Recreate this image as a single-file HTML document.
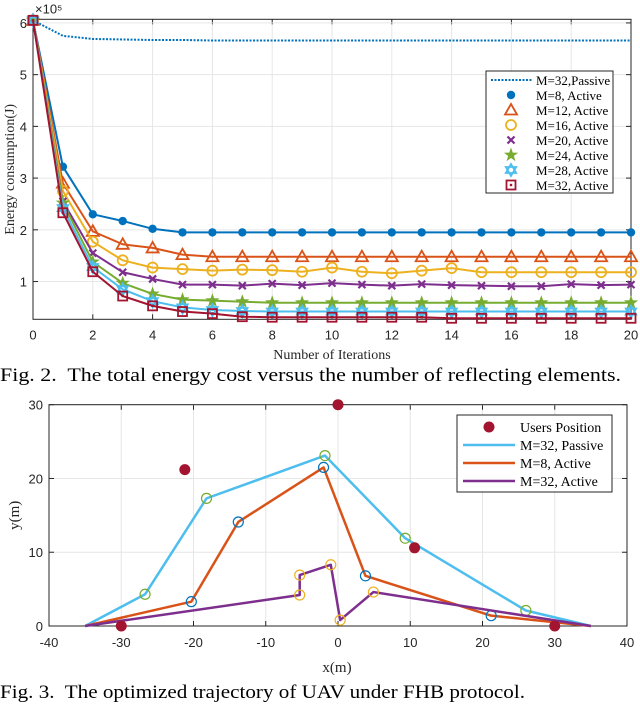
<!DOCTYPE html>
<html><head><meta charset="utf-8"><style>
html,body{margin:0;padding:0;background:#fff;}
svg{display:block;font-family:"Liberation Serif",serif;}
.tk{font-family:"Liberation Sans",sans-serif;font-size:13px;fill:#262626;}
.cap{white-space:pre;}
</style></head>
<body>
<svg id="root" width="640" height="706" viewBox="0 0 640 706">
<g id="fig2"></g>
<text class="cap" xml:space="preserve" x="0" y="381" font-size="19" textLength="621" lengthAdjust="spacingAndGlyphs">Fig. 2.  The total energy cost versus the number of reflecting elements.</text>
<g id="fig3"></g>
<text class="cap" xml:space="preserve" x="0" y="698" font-size="19" textLength="525" lengthAdjust="spacingAndGlyphs">Fig. 3.  The optimized trajectory of UAV under FHB protocol.</text>
</svg>
<script>
const NS="http://www.w3.org/2000/svg";
// ---- Fig 2 data (x1e5 J) ----
const iterations=[0,1,2,3,4,5,6,7,8,9,10,11,12,13,14,15,16,17,18,19,20];
const passive32=[6.05,5.75,5.69,5.68,5.67,5.67,5.66,5.66,5.66,5.66,5.66,5.66,5.66,5.66,5.66,5.66,5.66,5.66,5.66,5.66,5.66];
const active8=[6.05,3.22,2.30,2.17,2.02,1.95,1.95,1.95,1.95,1.95,1.95,1.95,1.95,1.95,1.95,1.95,1.95,1.95,1.95,1.95,1.95];
const active12=[6.05,2.90,1.97,1.72,1.65,1.52,1.48,1.48,1.48,1.48,1.48,1.48,1.48,1.48,1.48,1.48,1.48,1.48,1.48,1.48,1.48];
const active16=[6.05,2.75,1.77,1.41,1.27,1.24,1.21,1.23,1.22,1.19,1.27,1.19,1.16,1.21,1.26,1.18,1.18,1.18,1.18,1.18,1.18];
const active20=[6.05,2.55,1.55,1.18,1.05,0.94,0.94,0.92,0.96,0.93,0.97,0.94,0.92,0.95,0.93,0.92,0.91,0.91,0.95,0.93,0.94];
const active24=[6.05,2.52,1.38,0.97,0.76,0.65,0.63,0.61,0.59,0.59,0.59,0.59,0.59,0.59,0.59,0.59,0.59,0.59,0.59,0.59,0.59];
const active28=[6.05,2.42,1.28,0.85,0.62,0.50,0.45,0.43,0.42,0.42,0.42,0.42,0.42,0.42,0.42,0.42,0.42,0.42,0.42,0.42,0.42];
const active32=[6.05,2.33,1.19,0.72,0.53,0.42,0.38,0.32,0.31,0.31,0.31,0.31,0.31,0.31,0.29,0.29,0.29,0.29,0.29,0.29,0.29];
const xTicks2=[0,2,4,6,8,10,12,14,16,18,20];
const yTicks2=[1,2,3,4,5,6];
const legend2=["M=32,Passive","M=8, Active","M=12, Active","M=16, Active","M=20, Active","M=24, Active","M=28, Active","M=32, Active"];
// ---- Fig 3 data (m) ----
const usersX=[-30,-21.2,0,10.6,30];
const usersY=[0,21.2,30,10.6,0];
const passiveX=[-35,-26.7,-18.2,-1.8,9.3,26,35];
const passiveY=[0,4.3,17.3,23.1,11.9,2.1,0];
const act8X=[-35,-20.3,-13.8,-2.0,3.8,21.2,35];
const act8Y=[0,3.3,14.1,21.5,6.8,1.4,0];
const act32X=[-35,-5.3,-5.3,-1.0,0.3,4.9,35];
const act32Y=[0,4.2,6.9,8.3,0.8,4.6,0];
const xTicks3=[-40,-30,-20,-10,0,10,20,30,40];
const yTicks3=[0,10,20,30];
const legend3=["Users Position","M=32, Passive","M=8, Active","M=32, Active"];

function el(tag,attrs,parent){const e=document.createElementNS(NS,tag);for(const k in attrs)e.setAttribute(k,attrs[k]);parent.appendChild(e);return e;}

// ===== Fig 2 =====
const g2=document.getElementById('fig2');
const L2=33,R2=631,T2=19.3,B2=319.3,YMIN=0.27,YMAX=6.07;
const sx2=v=>L2+(v-0)/(20-0)*(R2-L2);
const sy2=v=>B2-(v-YMIN)/(YMAX-YMIN)*(B2-T2);
el('rect',{x:L2,y:T2,width:R2-L2,height:B2-T2,fill:'#fff'},g2);
for(const t of xTicks2){
  const l=el('line',{x1:sx2(t),x2:sx2(t),y1:T2,y2:B2,stroke:'#e6e6e6','stroke-width':1},g2);
  
  el('line',{x1:sx2(t),x2:sx2(t),y1:B2,y2:B2-5,stroke:'#262626'},g2);
  el('line',{x1:sx2(t),x2:sx2(t),y1:T2,y2:T2+5,stroke:'#262626'},g2);
  const tx=el('text',{x:sx2(t),y:B2+20,'text-anchor':'middle',class:'tk'},g2);tx.textContent=t;
  
}
for(const t of yTicks2){
  const l=el('line',{x1:L2,x2:R2,y1:sy2(t),y2:sy2(t),stroke:'#e6e6e6'},g2);
  
  el('line',{x1:L2,x2:L2+5,y1:sy2(t),y2:sy2(t),stroke:'#262626'},g2);
  el('line',{x1:R2,x2:R2-5,y1:sy2(t),y2:sy2(t),stroke:'#262626'},g2);
  const tx=el('text',{x:L2-6,y:sy2(t)+5,'text-anchor':'end',class:'tk'},g2);tx.textContent=t;
  
}
const ax2=el('rect',{x:L2,y:T2,width:R2-L2,height:B2-T2,fill:'none',stroke:'#262626','stroke-width':1},g2);

const ex=el('text',{x:L2+2,y:T2-6,class:'tk','font-size':'12'},g2);ex.textContent='×10⁵';

const yl=el('text',{x:0,y:0,'font-size':'14',fill:'#262626','text-anchor':'middle',transform:`translate(14,${(T2+B2)/2}) rotate(-90)`},g2);yl.textContent='Energy consumption(J)';

const xl=el('text',{x:(L2+R2)/2,y:359,'font-size':'14',fill:'#262626','text-anchor':'middle'},g2);xl.textContent='Number of Iterations';


function marker(parent,type,x,y,color){
  let m;
  if(type==='dot'){m=el('circle',{cx:x,cy:y,r:4.2,fill:color},parent);}
  else if(type==='tri'){m=el('polygon',{points:`${x},${y-6} ${x-6},${y+4.5} ${x+6},${y+4.5}`,fill:'none',stroke:color,'stroke-width':1.8},parent);}
  else if(type==='circ'){m=el('circle',{cx:x,cy:y,r:5,fill:'none',stroke:color,'stroke-width':1.8},parent);}
  else if(type==='x'){m=el('path',{d:`M${x-3.5},${y-3.5}L${x+3.5},${y+3.5}M${x-3.5},${y+3.5}L${x+3.5},${y-3.5}`,stroke:color,'stroke-width':2.2},parent);}
  else if(type==='star'){let p=[];for(let i=0;i<10;i++){const a=-Math.PI/2+i*Math.PI/5,r=i%2?3:7.5;p.push((x+r*Math.cos(a)).toFixed(1)+','+(y+r*Math.sin(a)).toFixed(1));}m=el('polygon',{points:p.join(' '),fill:color},parent);}
  else if(type==='hex'){m=el('g',{},parent);el('polygon',{points:`${x},${y-6} ${x-5.2},${y+3} ${x+5.2},${y+3}`,fill:'none',stroke:color,'stroke-width':1.8},m);el('polygon',{points:`${x},${y+6} ${x-5.2},${y-3} ${x+5.2},${y-3}`,fill:'none',stroke:color,'stroke-width':1.8},m);}
  else if(type==='sq'){m=el('rect',{x:x-4.5,y:y-4.5,width:9,height:9,fill:'none',stroke:color,'stroke-width':1.8},parent);el('rect',{x:x-1.2,y:y-1.2,width:2.4,height:2.4,fill:color},parent);}
  return m;
}
const series2=[
 {d:active8,c:'#0072BD',m:'dot',n:'series-m8-active'},
 {d:active12,c:'#D95319',m:'tri',n:'series-m12-active'},
 {d:active16,c:'#EDB120',m:'circ',n:'series-m16-active'},
 {d:active20,c:'#7E2F8E',m:'x',n:'series-m20-active'},
 {d:active24,c:'#77AC30',m:'star',n:'series-m24-active'},
 {d:active28,c:'#4DBEEE',m:'hex',n:'series-m28-active'},
 {d:active32,c:'#A2142F',m:'sq',n:'series-m32-active'}];
const pp=el('polyline',{points:passive32.map((v,i)=>sx2(iterations[i])+','+sy2(v)).join(' '),fill:'none',stroke:'#0072BD','stroke-width':2,'stroke-dasharray':'2,1.5'},g2);

for(const s of series2){
  const gg=el('g',{},g2);
  
  el('polyline',{points:s.d.map((v,i)=>sx2(iterations[i])+','+sy2(v)).join(' '),fill:'none',stroke:s.c,'stroke-width':2},gg);
  s.d.forEach((v,i)=>{const mk=marker(gg,s.m,sx2(iterations[i]),sy2(v),s.c);});
}
// legend 2
const lg2=el('g',{},g2);

el('rect',{x:486,y:71,width:127,height:122,fill:'#fff',stroke:'#262626','stroke-width':1},lg2);
legend2.forEach((t,i)=>{
  const y=80+i*15;
  const e=el('g',{},lg2);
  
  if(i===0){el('line',{x1:491,x2:532,y1:y,y2:y,stroke:'#0072BD','stroke-width':2,'stroke-dasharray':'2,1.5'},e);}
  else{const s=series2[i-1];marker(e,s.m,511,y,s.c);}
  const tx=el('text',{x:536,y:y+5,'font-size':'13',fill:'#000'},e);tx.textContent=t;
});

// ===== Fig 3 =====
const g3=document.getElementById('fig3');
const L3=49,R3=627,T3=404.7,B3=626;
const sx3=v=>L3+(v+40)/80*(R3-L3);
const sy3=v=>B3-v/30*(B3-T3);
for(const t of xTicks3){
  const l=el('line',{x1:sx3(t),x2:sx3(t),y1:T3,y2:B3,stroke:'#e6e6e6'},g3);
  
  el('line',{x1:sx3(t),x2:sx3(t),y1:B3,y2:B3-5,stroke:'#262626'},g3);
  el('line',{x1:sx3(t),x2:sx3(t),y1:T3,y2:T3+5,stroke:'#262626'},g3);
  const tx=el('text',{x:sx3(t),y:B3+21,'text-anchor':'middle',class:'tk','font-size':'14'},g3);tx.textContent=t;
  
}
for(const t of yTicks3){
  const l=el('line',{x1:L3,x2:R3,y1:sy3(t),y2:sy3(t),stroke:'#e6e6e6'},g3);
  
  el('line',{x1:L3,x2:L3+5,y1:sy3(t),y2:sy3(t),stroke:'#262626'},g3);
  el('line',{x1:R3,x2:R3-5,y1:sy3(t),y2:sy3(t),stroke:'#262626'},g3);
  const tx=el('text',{x:L3-6,y:sy3(t)+5,'text-anchor':'end',class:'tk','font-size':'14'},g3);tx.textContent=t;
  
}
const ax3=el('rect',{x:L3,y:T3,width:R3-L3,height:B3-T3,fill:'none',stroke:'#262626'},g3);

const yl3=el('text',{x:0,y:0,'font-size':'15',fill:'#262626','text-anchor':'middle',transform:`translate(19,${(T3+B3)/2}) rotate(-90)`},g3);yl3.textContent='y(m)';

const xl3=el('text',{x:337,y:672,'font-size':'15',fill:'#262626','text-anchor':'middle'},g3);xl3.textContent='x(m)';

const tr=[
 {X:passiveX,Y:passiveY,c:'#4DBEEE',mc:'#77AC30',n:'trajectory-m32-passive'},
 {X:act8X,Y:act8Y,c:'#D95319',mc:'#0072BD',n:'trajectory-m8-active'},
 {X:act32X,Y:act32Y,c:'#7E2F8E',mc:'#EDB120',n:'trajectory-m32-active'}];
for(const s of tr){
  const gg=el('g',{},g3);
  
  el('polyline',{points:s.X.map((v,i)=>sx3(v)+','+sy3(s.Y[i])).join(' '),fill:'none',stroke:s.c,'stroke-width':2.5,'stroke-linejoin':'round'},gg);
  for(let i=1;i<s.X.length-1;i++){const c=el('circle',{cx:sx3(s.X[i]),cy:sy3(s.Y[i]),r:5,fill:'none',stroke:s.mc,'stroke-width':1.2},gg);
    }
}
usersX.forEach((v,i)=>{const c=el('circle',{cx:sx3(v),cy:sy3(usersY[i]),r:5.5,fill:'#A2142F'},g3);
  });
const lg3=el('g',{},g3);

el('rect',{x:457,y:415,width:155,height:77,fill:'#fff',stroke:'#262626'},lg3);
const rowY3=[427,445,463,481];
legend3.forEach((t,i)=>{
  const YL=rowY3[i];
  const e=el('g',{},lg3);
  
  if(i===0)el('circle',{cx:489,cy:YL,r:5.5,fill:'#A2142F'},e);
  else el('line',{x1:463,x2:515,y1:YL,y2:YL,stroke:tr[i-1].c,'stroke-width':2.5},e);
  const tx=el('text',{x:520,y:YL+5,'font-size':'14',fill:'#000'},e);tx.textContent=t;
});
</script>
</body></html>
